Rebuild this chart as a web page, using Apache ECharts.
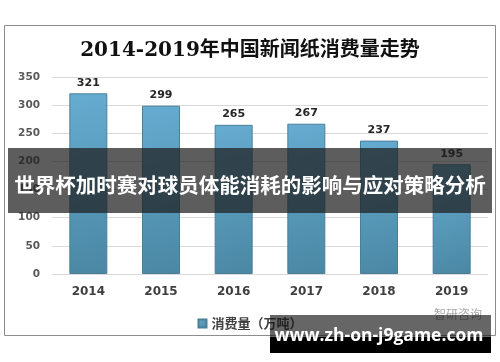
<!DOCTYPE html>
<html><head><meta charset="utf-8">
<script src="https://cdn.jsdelivr.net/npm/echarts@6/dist/echarts.min.js"></script>
<style>html,body{margin:0;padding:0;background:#fff}#c{width:500px;height:362px}</style>
</head><body><div id="c"></div>
<script>
const title = '2014-2019年中国新闻纸消费量走势';
const categories = ['2014', '2015', '2016', '2017', '2018', '2019'];
const seriesName = '消费量（万吨）';
const values = [321, 299, 265, 267, 237, 195];
const yTicks = [0, 50, 100, 150, 200, 250, 300, 350];
const bannerText = '世界杯加时赛对球员体能消耗的影响与应对策略分析';
const watermarkText = 'www.zh-on-j9game.com';
const logoText = '智研咨询';

const chart = echarts.init(document.getElementById('c'));
chart.setOption({
  animation: false,
  backgroundColor: '#fff',
  title: {
    text: title, left: 'center', top: 36,
    textStyle: { fontFamily: 'DejaVu Serif, "Noto Sans CJK SC", serif', fontSize: 20, fontWeight: 'bold', color: '#111' }
  },
  legend: {
    data: [seriesName], left: 'center', top: 312, icon: 'rect', itemWidth: 8, itemHeight: 8, itemGap: 4,
    textStyle: { fontFamily: '"Noto Sans CJK SC"', fontSize: 13, fontWeight: 'bold', color: '#404040' }
  },
  grid: { left: 52, right: 12, top: 77, bottom: 88 },
  xAxis: {
    type: 'category', data: categories,
    axisLine: { show: false }, axisTick: { show: false },
    axisLabel: { margin: 12, fontFamily: 'DejaVu Sans, sans-serif', fontSize: 12, fontWeight: 'bold', color: '#404040' }
  },
  yAxis: {
    type: 'value', min: yTicks[0], max: yTicks[yTicks.length - 1], interval: 50,
    axisLine: { show: false }, axisTick: { show: false },
    splitLine: { lineStyle: { color: '#d9d9d9' } },
    axisLabel: { margin: 12, fontFamily: 'DejaVu Sans, sans-serif', fontSize: 10.5, fontWeight: 'bold', color: '#595959' }
  },
  series: [{
    name: seriesName, type: 'bar', data: values, barWidth: 38,
    itemStyle: {
      color: new echarts.graphic.LinearGradient(0, 0, 1, 1, [
        { offset: 0, color: '#66acd1' }, { offset: 1, color: '#4a87a3' }
      ]),
      borderColor: '#4b7f98', borderWidth: 1
    },
    label: { show: true, position: 'top', distance: 5, fontFamily: 'DejaVu Sans, sans-serif', fontSize: 11, fontWeight: 'bold', color: '#262626' }
  }],
  graphic: [
    { type: 'rect', z: -1, shape: { x: 4.5, y: 25.5, width: 491, height: 310 }, style: { fill: 'none', stroke: '#8c8c8c', lineWidth: 1 } },
    { type: 'text', z: 5, left: 434, top: 308, style: { text: logoText, fontFamily: '"Noto Sans CJK SC"', fontSize: 12, fill: '#a6a6a6' } },
    { type: 'rect', z: 10, shape: { x: 8, y: 148, width: 484, height: 65 }, style: { fill: 'rgba(30,30,30,0.72)' } },
    { type: 'text', z: 11, x: 250, y: 185, style: { text: bannerText, align: 'center', verticalAlign: 'middle', fontFamily: '"Noto Sans CJK SC"', fontSize: 20.5, fontWeight: 'bold', fill: '#fff' } },
    { type: 'rect', z: 10, shape: { x: 270, y: 315, width: 221, height: 22 }, style: { fill: 'rgba(20,20,20,0.65)' } },
    { type: 'rect', z: 10, shape: { x: 270, y: 337, width: 221, height: 16 }, style: { fill: '#000' } },
    { type: 'text', z: 11, x: 379, y: 336, style: { text: watermarkText, align: 'center', verticalAlign: 'middle', fontFamily: '"Open Sans", sans-serif', fontSize: 17.5, fontWeight: 'bold', fill: '#fff' } }
  ]
});
</script></body></html>
